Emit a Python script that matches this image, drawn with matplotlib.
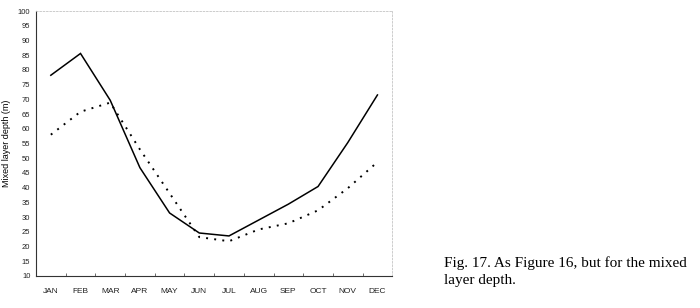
"""Mixed layer depth: monthly climatology, two series (solid and dotted)."""

import matplotlib

matplotlib.use("Agg")
import matplotlib.pyplot as plt

MONTHS = ["JAN", "FEB", "MAR", "APR", "MAY", "JUN",
          "JUL", "AUG", "SEP", "OCT", "NOV", "DEC"]
SOLID = [78.2, 85.6, 69.7, 46.8, 31.4, 24.6, 23.6, 29.0, 34.4, 40.4, 55.3, 71.5]
DOTTED = [58.0, 65.8, 68.9, 53.0, 38.1, 23.2, 21.8, 25.8, 27.9, 32.3, 39.8, 48.7]
Y_TICKS = list(range(10, 101, 5))
CAPTION = "Fig. 17. As Figure 16, but for the mixed\nlayer depth."


def main() -> None:
    plt.rcParams["font.family"] = ["Liberation Sans", "DejaVu Sans"]
    fig = plt.figure(figsize=(7.0, 3.08), dpi=100)
    ax = fig.add_axes([0.0514, 0.104, 0.509, 0.86])
    x = range(len(MONTHS))
    ax.plot(x, SOLID, color="black", linewidth=1.1, solid_joinstyle="miter")
    ax.plot(x, DOTTED, color="black", linewidth=1.4, linestyle=(0, (1.0, 3.2)))

    ax.set_xlim(-0.5, len(MONTHS) - 0.5)
    ax.set_ylim(10, 100)
    ax.set_yticks(Y_TICKS)
    ax.set_yticklabels([str(v) for v in Y_TICKS], fontsize=5.5, color="#222222")
    ax.set_xticks(list(x))
    ax.set_xticklabels(MONTHS, fontsize=6, color="#222222")
    ax.set_xticks([i + 0.5 for i in range(len(MONTHS) - 1)], minor=True)
    ax.tick_params(axis="x", which="major", length=0, pad=9)
    ax.tick_params(axis="x", which="minor", length=2, direction="in", color="#555555")
    ax.tick_params(axis="y", length=0, pad=4)
    ax.set_ylabel("Mixed layer depth (m)", fontsize=6.5, labelpad=5)

    for side in ("left", "bottom"):
        ax.spines[side].set_color("#333333")
        ax.spines[side].set_linewidth(0.8)
    for side in ("top", "right"):
        ax.spines[side].set_color("#c4c4c4")
        ax.spines[side].set_linewidth(0.6)
        ax.spines[side].set_linestyle((0, (2, 2)))

    fig.text(0.634, 0.168, CAPTION, family="Liberation Serif", fontsize=11,
             va="top", ha="left", linespacing=1.35)
    fig.savefig("out.png", dpi=100)
    plt.close(fig)


if __name__ == "__main__":
    main()
